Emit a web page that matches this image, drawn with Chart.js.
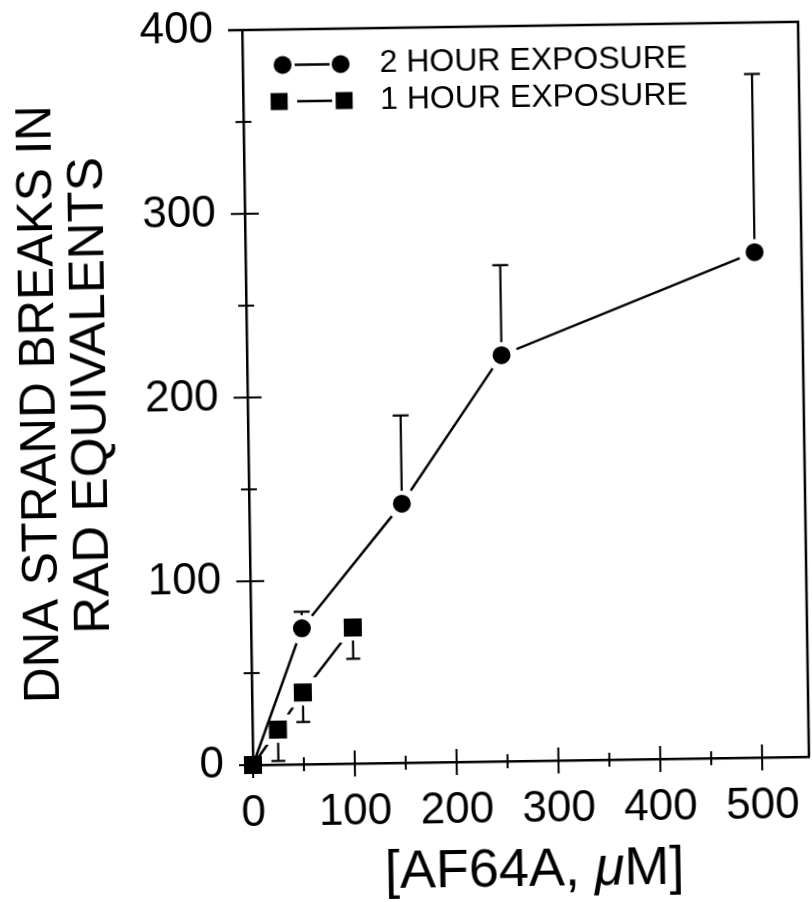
<!DOCTYPE html>
<html><head><meta charset="utf-8">
<script src="https://cdn.jsdelivr.net/npm/chart.js@4.4.1/dist/chart.umd.min.js"></script>
<style>
html,body{margin:0;padding:0;background:#fff;overflow:hidden;width:812px;height:902px}
#wrap{position:absolute;left:0;top:0;width:812px;height:902px;transform:rotate(-0.85deg);transform-origin:253px 765px}
canvas{display:block}
</style></head><body>
<div id="wrap"><canvas id="c" width="812" height="902"></canvas></div>
<script>
const FONT = '"Liberation Sans", Arial, Helvetica, sans-serif';

// ---- data ----
const xTickValues = [0, 50, 100, 150, 200, 250, 300, 350, 400, 450, 500];
const xLabelValues = [0, 100, 200, 300, 400, 500];
const yTickValues = [0, 50, 100, 150, 200, 250, 300, 350, 400];
const yLabelValues = [0, 100, 200, 300, 400];

const twoHourX = [0, 50, 150, 250, 500];
const twoHourY = [0, 74, 141, 221, 275];
const twoHourErrUpper = [null, 83, 189, 270, 372];

const oneHourX = [0, 25, 50, 100];
const oneHourY = [0, 19, 39, 74];
const oneHourErrLower = [null, 2, 23, 57];

const seriesNames = ['2 HOUR EXPOSURE', '1 HOUR EXPOSURE'];
const xTitleParts = ['[AF64A, ', '\u03BC', 'M]'];
const yTitleLines = ['DNA STRAND BREAKS IN', 'RAD EQUIVALENTS'];

const toPoints = (xs, ys) => xs.map((v, i) => ({x: v, y: ys[i]}));

function seg(ctx, x1, y1, x2, y2) {
  ctx.beginPath(); ctx.moveTo(x1, y1); ctx.lineTo(x2, y2); ctx.stroke();
}
function noPad(s) { s.paddingLeft = 0; s.paddingRight = 0; s.paddingTop = 0; s.paddingBottom = 0; }

const overlay = {
  id: 'overlay',
  beforeDatasetsDraw(chart) {
    const {ctx, chartArea: a, scales: {x, y}} = chart;
    ctx.save();
    ctx.strokeStyle = '#000';
    ctx.lineCap = 'butt';
    ctx.lineWidth = 2.5;
    ctx.beginPath();
    ctx.moveTo(a.left - 14, a.top);
    ctx.lineTo(a.right, a.top);
    ctx.lineTo(a.right, a.bottom);
    ctx.stroke();
    ctx.lineWidth = 2;
    xTickValues.forEach(v => {
      const p = x.getPixelForValue(v);
      const L = xLabelValues.includes(v) ? 13 : 7;
      seg(ctx, p, a.bottom - L, p, a.bottom + L);
    });
    yTickValues.forEach(v => {
      const p = y.getPixelForValue(v);
      const L = yLabelValues.includes(v) ? 14 : 8;
      seg(ctx, a.left - L, p, a.left + L, p);
    });
    ctx.restore();
  },
  afterDatasetsDraw(chart) {
    const {ctx, scales: {x, y}} = chart;
    ctx.save();
    ctx.strokeStyle = '#000';
    ctx.lineWidth = 2.2;
    twoHourX.forEach((xv, i) => {
      const e = twoHourErrUpper[i];
      if (e == null) return;
      const px = x.getPixelForValue(xv);
      const y0 = y.getPixelForValue(twoHourY[i]) - 13;
      const y1 = y.getPixelForValue(e);
      if (y1 < y0) seg(ctx, px, y0, px, y1);
      seg(ctx, px - 8, y1, px + 8, y1);
    });
    oneHourX.forEach((xv, i) => {
      const e = oneHourErrLower[i];
      if (e == null) return;
      const px = x.getPixelForValue(xv);
      const y0 = y.getPixelForValue(oneHourY[i]) + 13;
      const y1 = y.getPixelForValue(e);
      if (y1 > y0) seg(ctx, px, y0, px, y1);
      seg(ctx, px - 7, y1, px + 7, y1);
    });
    ctx.restore();
  },
  afterDraw(chart) {
    const {ctx} = chart;
    ctx.save();
    ctx.fillStyle = '#000';
    ctx.strokeStyle = '#000';
    // legend
    ctx.lineWidth = 2.5;
    const r1 = 65.5, r2 = 102;
    ctx.beginPath(); ctx.arc(293, r1, 9, 0, Math.PI * 2); ctx.fill();
    ctx.beginPath(); ctx.arc(351, r1, 9, 0, Math.PI * 2); ctx.fill();
    seg(ctx, 305, r1, 340, r1);
    ctx.fillRect(289 - 8.5, r2 - 8.5, 17, 17);
    ctx.fillRect(354 - 8.5, r2 - 8.5, 17, 17);
    seg(ctx, 307, r2, 342, r2);
    ctx.font = '32px ' + FONT;
    ctx.textBaseline = 'middle';
    ctx.textAlign = 'left';
    ctx.fillText(seriesNames[0], 390, r1);
    ctx.fillText(seriesNames[1], 390, r2);

    // x title
    const fonts = ['54px ' + FONT, 'italic 54px ' + FONT, '54px ' + FONT];
    const widths = xTitleParts.map((t, i) => { ctx.font = fonts[i]; return ctx.measureText(t).width; });
    const total = widths.reduce((s, w) => s + w, 0);
    let cx = 533 - total / 2;
    xTitleParts.forEach((t, i) => {
      ctx.font = fonts[i];
      ctx.fillText(t, cx, 875);
      cx += widths[i];
    });

    // y title (two rotated lines)
    const yt = [
      {text: yTitleLines[0], x: 46, y: 401, len: 598, size: 50},
      {text: yTitleLines[1], x: 97, y: 393, len: 477, size: 50}
    ];
    yt.forEach(o => {
      ctx.save();
      ctx.translate(o.x, o.y);
      ctx.rotate(-Math.PI / 2);
      ctx.font = o.size + 'px ' + FONT;
      const w = ctx.measureText(o.text).width;
      ctx.scale(o.len / w, 1);
      ctx.textAlign = 'center';
      ctx.textBaseline = 'middle';
      ctx.fillText(o.text, 0, 0);
      ctx.restore();
    });
    ctx.restore();
  }
};

new Chart(document.getElementById('c'), {
  type: 'line',
  data: {
    datasets: [
      {
        label: seriesNames[0],
        data: toPoints(twoHourX, twoHourY),
        borderColor: '#000',
        borderWidth: 2.5,
        backgroundColor: '#000',
        pointStyle: 'circle',
        pointRadius: [0, 12.5, 12.5, 12.5, 12.5],
        pointBorderWidth: [0, 7, 7, 7, 7],
        pointBorderColor: '#fff',
        pointBackgroundColor: '#000',
        tension: 0,
        clip: false
      },
      {
        label: seriesNames[1],
        data: toPoints(oneHourX, oneHourY),
        borderColor: '#000',
        borderWidth: 2.5,
        backgroundColor: '#000',
        pointStyle: 'rect',
        pointRadius: [12.73, 17, 17, 17],
        pointBorderWidth: [0, 6, 6, 6],
        pointBorderColor: '#fff',
        pointBackgroundColor: '#000',
        tension: 0,
        clip: false
      }
    ]
  },
  options: {
    responsive: false,
    animation: false,
    events: [],
    layout: {autoPadding: false, padding: {left: 0, top: 30, right: 3, bottom: 0}},
    plugins: {legend: {display: false}, tooltip: {enabled: false}, title: {display: false}},
    scales: {
      x: {
        type: 'linear', min: 0, max: 546,
        afterBuildTicks: s => { s.ticks = xTickValues.map(v => ({value: v})); },
        afterFit: s => { s.height = 137; noPad(s); },
        grid: {display: false, drawTicks: false},
        border: {display: true, color: '#000', width: 2.5},
        ticks: {
          padding: 22, color: '#000', font: {family: FONT, size: 44},
          maxRotation: 0, autoSkip: false,
          callback: v => xLabelValues.includes(v) ? String(v) : ''
        }
      },
      y: {
        type: 'linear', min: 0, max: 400,
        afterBuildTicks: s => { s.ticks = yTickValues.map(v => ({value: v})); },
        afterFit: s => { s.width = 253; noPad(s); },
        grid: {display: false, drawTicks: false},
        border: {display: true, color: '#000', width: 2.5},
        ticks: {
          padding: 29, color: '#000', font: {family: FONT, size: 44},
          autoSkip: false,
          callback: v => yLabelValues.includes(v) ? String(v) : ''
        }
      }
    }
  },
  plugins: [overlay]
});
</script></body></html>
